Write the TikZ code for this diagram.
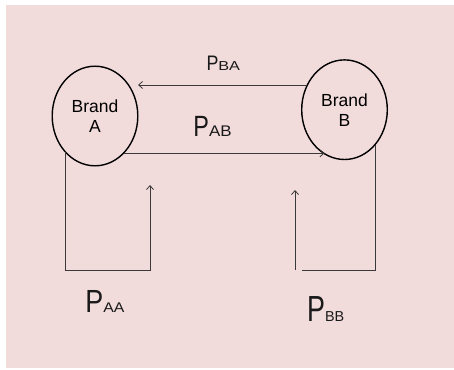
\documentclass[tikz,border=0pt]{standalone}
\usepackage{graphicx}
\usepackage{fontspec}
\setmainfont{Liberation Sans}
\usetikzlibrary{shapes.geometric,arrows.meta}
\definecolor{bgpink}{HTML}{F2DCDB}
\definecolor{linegray}{HTML}{3A3A3A}
\tikzset{
  brand/.style={ellipse,draw=black,line width=1.4pt,minimum width=85.6pt,minimum height=99.6pt,inner sep=0pt,align=center,font=\fontsize{17.5}{20}\selectfont},
  conn/.style={draw=linegray,line width=0.8pt},
  arr/.style={conn,-{Straight Barb[length=4pt,width=7pt,line width=0.8pt]}},
  plabel/.style={anchor=base west,inner sep=0pt,text=black!90},
}
\newcommand{\plab}[5]{\scalebox{#2}[1]{\fontsize{#1}{#1}\selectfont P}\scalebox{#4}[1]{\fontsize{#3}{#3}\selectfont #5}}
\begin{document}
\begin{tikzpicture}[x=1pt,y=-1pt]
\useasboundingbox (0,0) rectangle (454,369);
\fill[white] (0,0) rectangle (454,369);
\fill[bgpink] (6,5) rectangle (454,368);
\node[brand] (A) at (95,116) {Brand\\A};
\node[brand] (B) at (344.5,109.7) {Brand\\B};
% P_BA
\coordinate (ba1) at (307.4,85);
\coordinate (ba2) at (138,85);
\draw[arr] (ba1) -- (ba2);
% P_AB
\coordinate (ab1) at (123.5,153.3);
\coordinate (ab2) at (324.5,153.3);
\draw[arr] (ab1) -- (ab2);
% loop A
\coordinate (aa1) at (65.7,152.4);
\coordinate (aa2) at (65.7,270);
\coordinate (aa3) at (150,270);
\coordinate (aa4) at (150,185);
\draw[arr] (aa1) -- (aa2) -- (aa3) -- (aa4);
% loop B
\coordinate (bb1) at (375,144.6);
\coordinate (bb2) at (375,270);
\coordinate (bb3) at (301.7,270);
\draw[conn] (bb1) -- (bb2) -- (bb3);
\coordinate (bb4) at (295,270);
\coordinate (bb5) at (295,190);
\draw[arr] (bb4) -- (bb5);
% labels
\node[plabel] (lba) at (206.3,70.7) {\plab{21}{0.85}{13}{1.25}{BA}};
\node[plabel] (lab) at (193.2,136) {\plab{29.3}{0.8}{15.4}{1.1}{AB}};
\node[plabel] (laa) at (85.2,312) {\plab{32}{0.84}{14}{1.13}{AA}};
\node[plabel] (lbb) at (306.9,321) {\plab{36.3}{0.74}{14.4}{1.0}{BB}};
\end{tikzpicture}
\end{document}
